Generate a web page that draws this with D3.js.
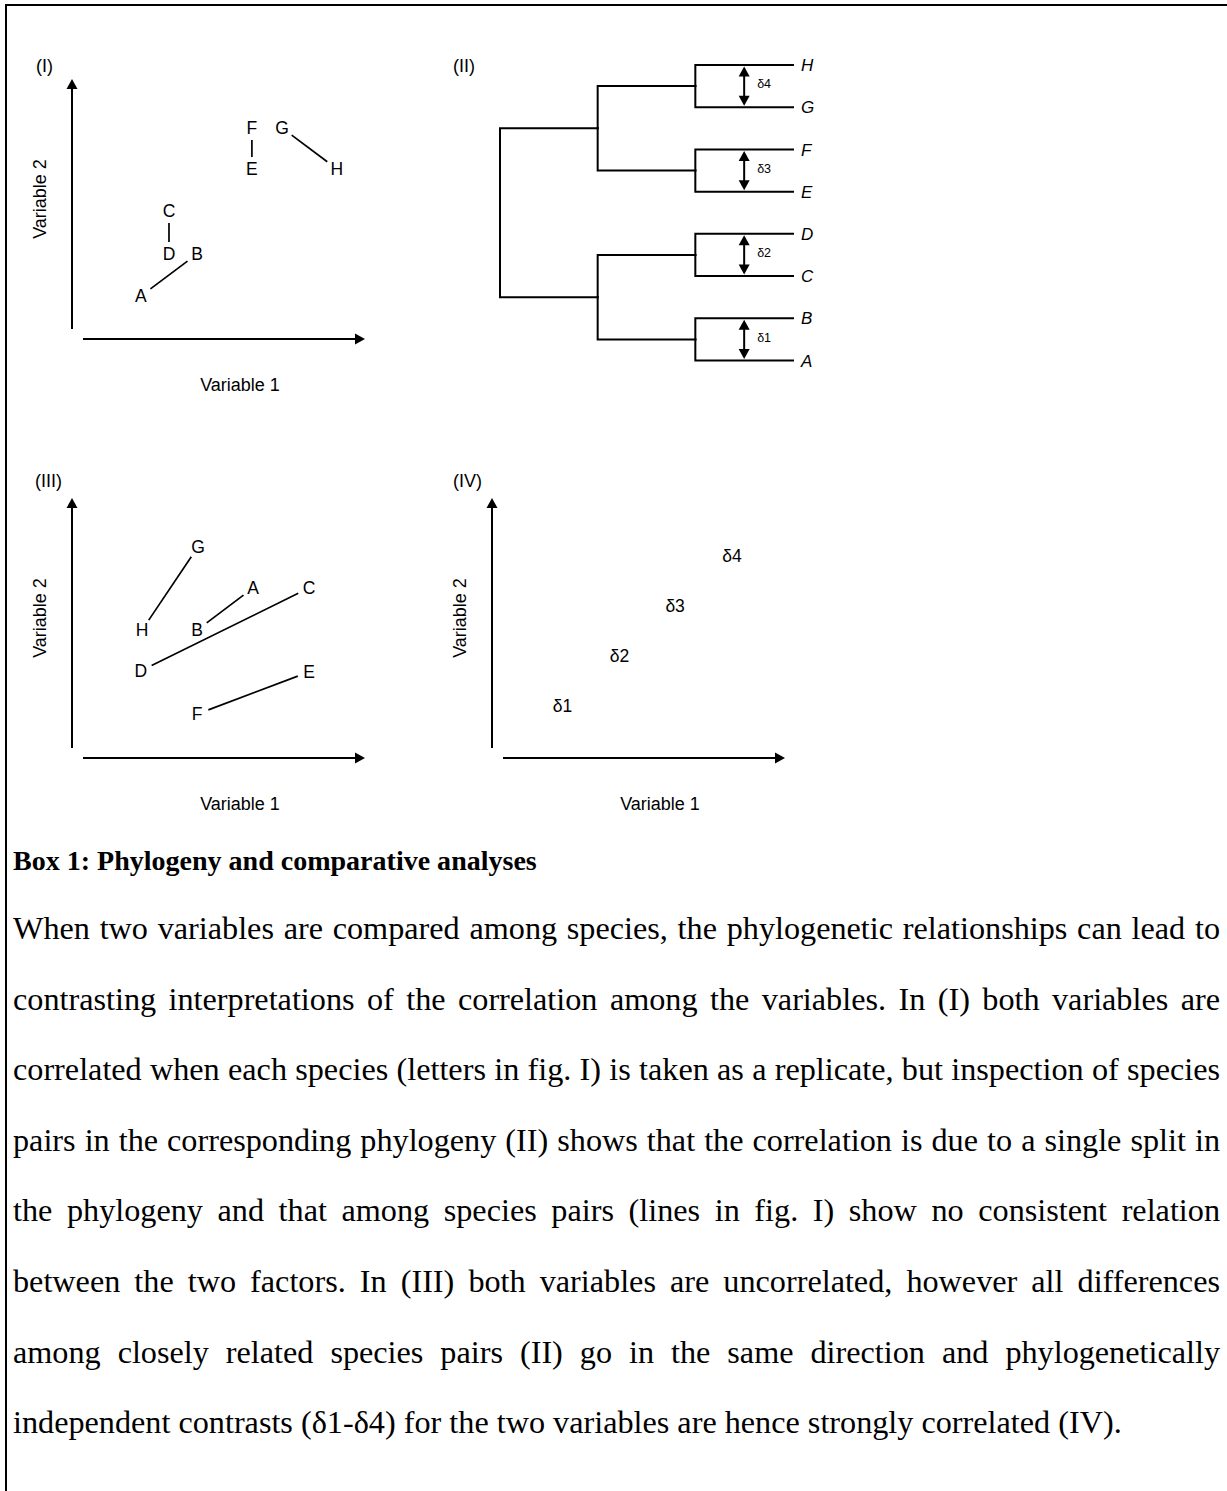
<!DOCTYPE html>
<html>
<head>
<meta charset="utf-8">
<script src="https://cdn.jsdelivr.net/npm/d3@7"></script>
<style>
  html, body { margin: 0; padding: 0; background: #fff; }
  svg text { fill: #000; }
</style>
</head>
<body>
<svg id="fig" width="1227" height="1491"></svg>
<script>
// ---- data (0-100 units on both variables) ----
const species = ["A", "B", "C", "D", "E", "F", "G", "H"];
const var1PanelI = [23.5, 42.7, 33.1, 33.1, 61.4, 61.4, 71.7, 90.4];
const var2PanelI = [16.5, 32.7, 49.2, 32.7, 65.4, 81.2, 81.2, 65.4];
const var1PanelIII = [61.8, 42.7, 80.9, 23.5, 80.9, 42.7, 43.0, 23.9];
const var2PanelIII = [65.4, 49.2, 65.4, 33.5, 33.1, 16.9, 81.2, 49.2];
const speciesPairs = [["A", "B"], ["C", "D"], ["E", "F"], ["G", "H"]];

const contrasts = ["δ1", "δ2", "δ3", "δ4"];
const contrastPairs = [["B", "A"], ["D", "C"], ["F", "E"], ["H", "G"]];
const contrastVar1 = [24.1, 43.5, 62.5, 81.9];
const contrastVar2 = [20.0, 39.2, 58.5, 77.7];

// phylogeny, leaves listed top to bottom
const phylogeny = [[["H", "G"], ["F", "E"]], [["D", "C"], ["B", "A"]]];

const panelTags = ["(I)", "(II)", "(III)", "(IV)"];
const axisTitles = ["Variable 1", "Variable 2"];

const boxTitle = "Box 1: Phylogeny and comparative analyses";
const boxLines = [
  "When two variables are compared among species, the phylogenetic relationships can lead to",
  "contrasting interpretations of the correlation among the variables. In (I) both variables are",
  "correlated when each species (letters in fig. I) is taken as a replicate, but inspection of species",
  "pairs in the corresponding phylogeny (II) shows that the correlation is due to a single split in",
  "the phylogeny and that among species pairs (lines in fig. I) show no consistent relation",
  "between the two factors. In (III) both variables are uncorrelated, however all differences",
  "among closely related species pairs (II) go in the same direction and phylogenetically",
  "independent contrasts (δ1-δ4) for the two variables are hence strongly correlated (IV)."
];

// ---- drawing ----
const svg = d3.select("#fig");
const sans = "Arial, 'Liberation Sans', Helvetica, sans-serif";

// box frame (top and left edges only)
svg.append("path")
  .attr("d", "M6,1491V5H1227")
  .attr("fill", "none")
  .attr("stroke", "#000")
  .attr("stroke-width", 2);

function arrowAxes(g, x, y) {
  const x0 = x.range()[0], x1 = x.range()[1];
  const y0 = y.range()[0], y1 = y.range()[1];
  // vertical axis
  g.append("line")
    .attr("x1", x0).attr("x2", x0)
    .attr("y1", y0 - 10).attr("y2", y1 + 8)
    .attr("stroke", "#000").attr("stroke-width", 2);
  g.append("path")
    .attr("d", `M${x0},${y1}L${x0 - 5.5},${y1 + 10}L${x0 + 5.5},${y1 + 10}Z`);
  // horizontal axis
  g.append("line")
    .attr("x1", x0 + 11).attr("x2", x1 - 8)
    .attr("y1", y0).attr("y2", y0)
    .attr("stroke", "#000").attr("stroke-width", 2);
  g.append("path")
    .attr("d", `M${x1},${y0}L${x1 - 10},${y0 - 5.5}L${x1 - 10},${y0 + 5.5}Z`);

  g.append("text")
    .attr("x", x0 + 168).attr("y", y0 + 52)
    .attr("text-anchor", "middle")
    .attr("font-size", 18)
    .text(axisTitles[0]);
  g.append("text")
    .attr("transform", `translate(${x0 - 32},${y0 - 140}) rotate(-90)`)
    .attr("text-anchor", "middle")
    .attr("dy", "0.35em")
    .attr("font-size", 18)
    .text(axisTitles[1]);
}

function panelScales(dx, dy) {
  return {
    x: d3.scaleLinear().domain([0, 100]).range([72 + dx, 365 + dx]),
    y: d3.scaleLinear().domain([0, 100]).range([339 + dy, 79 + dy])
  };
}

function speciesPanel(dx, dy, v1, v2) {
  const g = svg.append("g").attr("font-family", sans);
  const { x, y } = panelScales(dx, dy);
  arrowAxes(g, x, y);

  const pts = species.map((s, i) => ({ name: s, px: x(v1[i]), py: y(v2[i]) }));
  const byName = new Map(pts.map(p => [p.name, p]));
  const gap = 12;

  g.append("g").selectAll("line")
    .data(speciesPairs)
    .join("line")
    .each(function (pr) {
      const a = byName.get(pr[0]), b = byName.get(pr[1]);
      const len = Math.hypot(b.px - a.px, b.py - a.py);
      const ux = (b.px - a.px) / len, uy = (b.py - a.py) / len;
      d3.select(this)
        .attr("x1", a.px + ux * gap).attr("y1", a.py + uy * gap)
        .attr("x2", b.px - ux * gap).attr("y2", b.py - uy * gap);
    })
    .attr("stroke", "#000")
    .attr("stroke-width", 1.7);

  g.append("g").selectAll("text")
    .data(pts)
    .join("text")
    .attr("x", d => d.px).attr("y", d => d.py)
    .attr("dy", "0.36em")
    .attr("text-anchor", "middle")
    .attr("font-size", 17.5)
    .text(d => d.name);
  return g;
}

// panel I
const gI = speciesPanel(0, 0, var1PanelI, var2PanelI);
gI.append("text").attr("x", 36).attr("y", 72).attr("font-size", 18).text(panelTags[0]);

// panel III
const gIII = speciesPanel(0, 419, var1PanelIII, var2PanelIII);
gIII.append("text").attr("x", 35).attr("y", 487).attr("font-size", 18).text(panelTags[2]);

// panel IV
(function () {
  const g = svg.append("g").attr("font-family", sans);
  const { x, y } = panelScales(420, 419);
  arrowAxes(g, x, y);
  g.selectAll("text.contrast")
    .data(contrasts)
    .join("text")
    .attr("class", "contrast")
    .attr("x", (d, i) => x(contrastVar1[i]))
    .attr("y", (d, i) => y(contrastVar2[i]))
    .attr("dy", "0.36em")
    .attr("text-anchor", "middle")
    .attr("font-size", 17.5)
    .text(d => d);
  g.append("text").attr("x", 453).attr("y", 487).attr("font-size", 18).text(panelTags[3]);
})();

// panel II: phylogeny
(function () {
  const g = svg.append("g").attr("font-family", sans);
  g.append("text").attr("x", 453).attr("y", 72).attr("font-size", 18).text(panelTags[1]);

  const root = d3.hierarchy(phylogeny, d => Array.isArray(d) ? d : null);
  d3.cluster().size([1, 1]).separation(() => 1)(root);
  const leaves = root.leaves();
  const Y = d3.scaleLinear().domain(d3.extent(leaves, d => d.x)).range([65, 360.5]);
  const X = d3.scaleLinear().domain([0, 1]).range([500, 793]);

  g.append("g").selectAll("path")
    .data(root.links())
    .join("path")
    .attr("d", l => `M${X(l.source.y)},${Y(l.source.x)}V${Y(l.target.x)}H${X(l.target.y)}`)
    .attr("fill", "none")
    .attr("stroke", "#000")
    .attr("stroke-width", 2)
    .attr("stroke-linecap", "square");

  g.append("g").selectAll("text")
    .data(leaves)
    .join("text")
    .attr("x", d => X(d.y) + 8)
    .attr("y", d => Y(d.x))
    .attr("dy", "0.36em")
    .attr("font-size", 17)
    .attr("font-style", "italic")
    .text(d => d.data);

  // double arrows between sister species
  const pairNodes = root.descendants().filter(d => d.height === 1);
  const arrows = g.append("g").selectAll("g")
    .data(pairNodes)
    .join("g");
  arrows.each(function (d) {
    const a = d3.select(this);
    const ax = (X(d.y) + X(d.children[0].y)) / 2;
    const yTop = Y(d.children[0].x) + 1.5, yBot = Y(d.children[1].x) - 1.5;
    a.append("line")
      .attr("x1", ax).attr("x2", ax)
      .attr("y1", yTop + 8).attr("y2", yBot - 8)
      .attr("stroke", "#000").attr("stroke-width", 2);
    a.append("path").attr("d", `M${ax},${yTop}L${ax - 5.5},${yTop + 10}L${ax + 5.5},${yTop + 10}Z`);
    a.append("path").attr("d", `M${ax},${yBot}L${ax - 5.5},${yBot - 10}L${ax + 5.5},${yBot - 10}Z`);
    const key = d.children.map(c => c.data).join(",");
    const idx = contrastPairs.findIndex(p => p.join(",") === key);
    a.append("text")
      .attr("x", ax + 13)
      .attr("y", Y(d.x) - 2)
      .attr("dy", "0.35em")
      .attr("font-size", 12.5)
      .text(contrasts[idx]);
  });
})();

// ---- box text, justified ----
(function () {
  const left = 13, right = 1220;
  const titleY = 870, firstY = 939, lineStep = 70.6;
  const tg = svg.append("g")
    .attr("font-family", "'Liberation Serif', 'Times New Roman', serif");

  // size the serif face so the unjustified last line and title span what the reference shows
  const probe = tg.append("text").attr("font-size", 100).text(boxLines[boxLines.length - 1]);
  const fs = 100 * 1109 / probe.node().getComputedTextLength();
  probe.remove();
  const tprobe = tg.append("text").attr("font-size", 100).attr("font-weight", "bold").text(boxTitle);
  const tfs = Math.min(fs, 100 * 524 / tprobe.node().getComputedTextLength());
  tprobe.remove();

  tg.append("text")
    .attr("x", left).attr("y", titleY)
    .attr("font-size", tfs)
    .attr("font-weight", "bold")
    .text(boxTitle);

  function wordWidth(w) {
    const t = tg.append("text").attr("font-size", fs).text(w);
    const len = t.node().getComputedTextLength();
    t.remove();
    return len;
  }

  boxLines.forEach((line, i) => {
    const y = firstY + i * lineStep;
    if (i === boxLines.length - 1) {
      tg.append("text").attr("x", left).attr("y", y).attr("font-size", fs).text(line);
      return;
    }
    const words = line.split(" ");
    const widths = words.map(wordWidth);
    const space = (right - left - d3.sum(widths)) / (words.length - 1);
    let cx = left;
    const xs = widths.map(w => { const p = cx; cx += w + space; return p; });
    tg.append("text")
      .attr("y", y)
      .attr("font-size", fs)
      .selectAll("tspan")
      .data(words)
      .join("tspan")
      .attr("x", (d, j) => xs[j])
      .text(d => d);
  });
})();
</script>
</body>
</html>
